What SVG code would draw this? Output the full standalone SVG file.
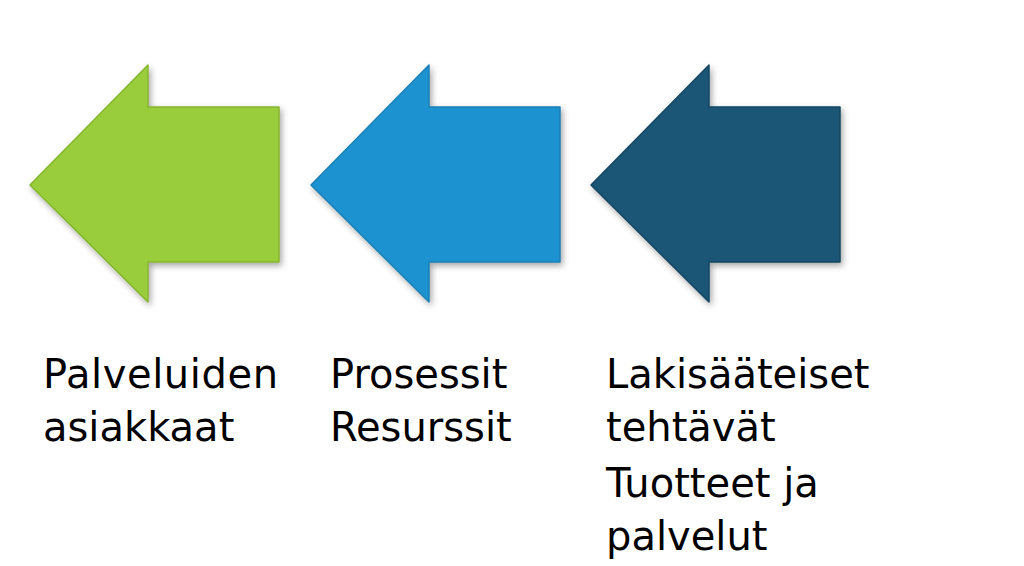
<svg xmlns="http://www.w3.org/2000/svg" width="1024" height="566" viewBox="0 0 1024 566">
<style>
.t{font-family:"DejaVu Sans","Liberation Sans",sans-serif;font-size:40px;fill:#000}
.a{stroke-width:1.5;stroke-linejoin:round}
</style>
<defs>
<filter id="sh" x="-10%" y="-10%" width="130%" height="130%"><feDropShadow dx="2" dy="3" stdDeviation="3" flood-opacity="0.35"/></filter>
<path id="arr" d="M0,120 L118,0 L118,42 L249,42 L249,197 L118,197 L118,237 Z"/>
</defs>
<rect width="1024" height="566" fill="#fff"/>
<g id="arrow1" filter="url(#sh)"><use href="#arr" x="30" y="65" fill="#9ACD3A" stroke="#86B52E" class="a"/></g>
<g id="arrow2" filter="url(#sh)"><use href="#arr" x="311" y="65" fill="#1E93D0" stroke="#1A80B5" class="a"/></g>
<g id="arrow3" filter="url(#sh)"><use href="#arr" x="591" y="65" fill="#1B5676" stroke="#164762" class="a"/></g>
<g id="connectors"/>
<g id="label1"><text class="t" x="43" y="388" textLength="235">Palveluiden</text><text class="t" x="43" y="441">asiakkaat</text></g>
<g id="label2"><text class="t" x="330" y="388">Prosessit</text><text class="t" x="330" y="441">Resurssit</text></g>
<g id="label3"><text class="t" x="606" y="388">Lakisääteiset</text><text class="t" x="606" y="441">tehtävät</text><text class="t" x="606" y="497">Tuotteet ja</text><text class="t" x="606" y="550">palvelut</text></g>
</svg>
